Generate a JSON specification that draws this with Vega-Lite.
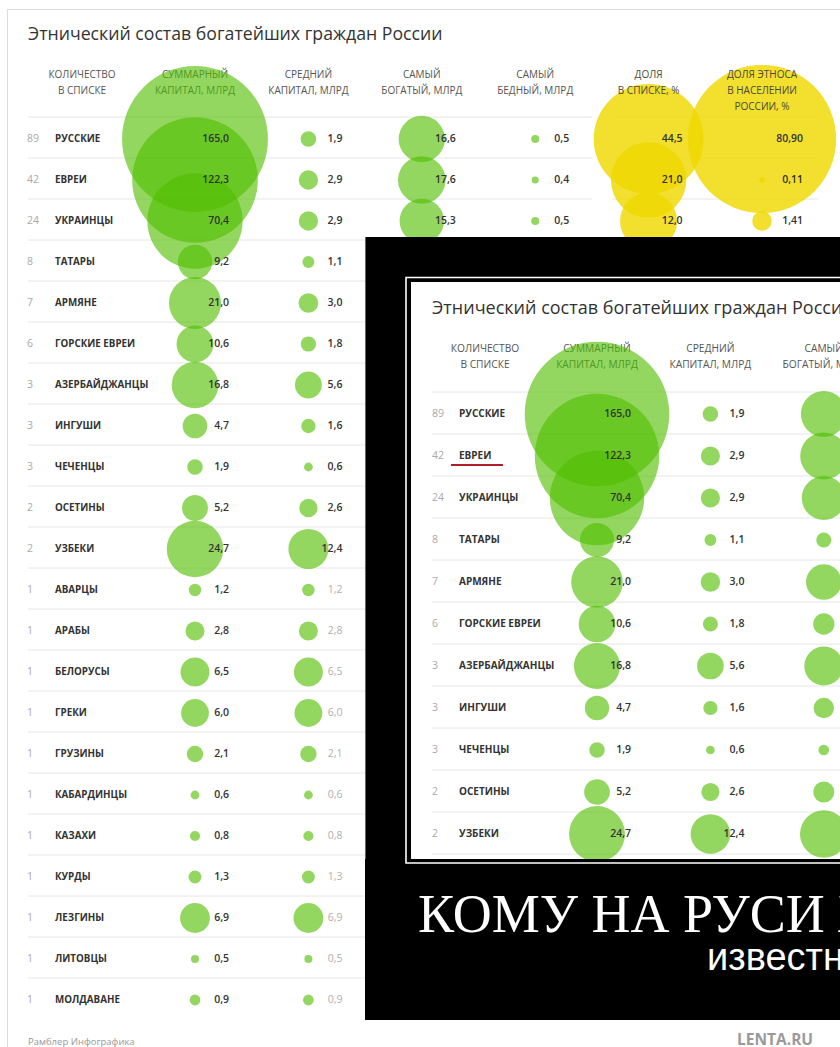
{
  "$schema": "https://vega.github.io/schema/vega-lite/v6.json",
  "width": 840,
  "height": 1047,
  "autosize": {"type": "none"},
  "padding": 0,
  "background": "white",
  "config": {
    "view": {"stroke": null},
    "axis": {"disable": true},
    "legend": {"disable": true},
    "font": "Open Sans",
    "locale": {"number": {"decimal": ",", "thousands": " ", "grouping": [3], "currency": ["", " ₽"]}}
  },
  "datasets": {
    "eth": [
      {"name": "РУССКИЕ", "count": 89, "sum": 165.0, "mean": 1.9, "rich": 16.6, "poor": 0.5, "share": 44.5, "pop": 80.90},
      {"name": "ЕВРЕИ", "count": 42, "sum": 122.3, "mean": 2.9, "rich": 17.6, "poor": 0.4, "share": 21.0, "pop": 0.11},
      {"name": "УКРАИНЦЫ", "count": 24, "sum": 70.4, "mean": 2.9, "rich": 15.3, "poor": 0.5, "share": 12.0, "pop": 1.41},
      {"name": "ТАТАРЫ", "count": 8, "sum": 9.2, "mean": 1.1, "rich": 1.8},
      {"name": "АРМЯНЕ", "count": 7, "sum": 21.0, "mean": 3.0, "rich": 10.0},
      {"name": "ГОРСКИЕ ЕВРЕИ", "count": 6, "sum": 10.6, "mean": 1.8, "rich": 3.6},
      {"name": "АЗЕРБАЙДЖАНЦЫ", "count": 3, "sum": 16.8, "mean": 5.6, "rich": 12.0},
      {"name": "ИНГУШИ", "count": 3, "sum": 4.7, "mean": 1.6, "rich": 3.3},
      {"name": "ЧЕЧЕНЦЫ", "count": 3, "sum": 1.9, "mean": 0.6, "rich": 0.9},
      {"name": "ОСЕТИНЫ", "count": 2, "sum": 5.2, "mean": 2.6, "rich": 3.5},
      {"name": "УЗБЕКИ", "count": 2, "sum": 24.7, "mean": 12.4, "rich": 17.9},
      {"name": "АВАРЦЫ", "count": 1, "sum": 1.2, "mean": 1.2},
      {"name": "АРАБЫ", "count": 1, "sum": 2.8, "mean": 2.8},
      {"name": "БЕЛОРУСЫ", "count": 1, "sum": 6.5, "mean": 6.5},
      {"name": "ГРЕКИ", "count": 1, "sum": 6.0, "mean": 6.0},
      {"name": "ГРУЗИНЫ", "count": 1, "sum": 2.1, "mean": 2.1},
      {"name": "КАБАРДИНЦЫ", "count": 1, "sum": 0.6, "mean": 0.6},
      {"name": "КАЗАХИ", "count": 1, "sum": 0.8, "mean": 0.8},
      {"name": "КУРДЫ", "count": 1, "sum": 1.3, "mean": 1.3},
      {"name": "ЛЕЗГИНЫ", "count": 1, "sum": 6.9, "mean": 6.9},
      {"name": "ЛИТОВЦЫ", "count": 1, "sum": 0.5, "mean": 0.5},
      {"name": "МОЛДАВАНЕ", "count": 1, "sum": 0.9, "mean": 0.9}
    ],
    "hdr": [
      {"key": "count", "label": ["КОЛИЧЕСТВО", "В СПИСКЕ"]},
      {"key": "sum", "label": ["СУММАРНЫЙ", "КАПИТАЛ, МЛРД"]},
      {"key": "mean", "label": ["СРЕДНИЙ", "КАПИТАЛ, МЛРД"]},
      {"key": "rich", "label": ["САМЫЙ", "БОГАТЫЙ, МЛРД"]},
      {"key": "poor", "label": ["САМЫЙ", "БЕДНЫЙ, МЛРД"]},
      {"key": "share", "label": ["ДОЛЯ", "В СПИСКЕ, %"]},
      {"key": "pop", "label": ["ДОЛЯ ЭТНОСА", "В НАСЕЛЕНИИ", "РОССИИ, %"]}
    ],
    "one": [{}]
  },
  "resolve": {"scale": {"x": "independent", "y": "independent", "size": "independent"}},
  "layer": [
    {
      "resolve": {"scale": {"size": "independent"}},
      "layer": [
        {
          "data": {"name": "one"},
          "mark": {"type": "rule", "color": "#dcdcdc", "strokeWidth": 1, "xOffset": -187.5, "x2Offset": 100, "yOffset": -129.5},
          "encoding": {
            "x": {"datum": "sum", "type": "nominal", "scale": {"type": "point", "domain": ["sum", "mean", "rich", "poor", "share", "pop"], "range": [195, 762], "padding": 0}},
            "x2": {"datum": "pop"},
            "y": {"datum": "РУССКИЕ", "type": "nominal", "scale": {"type": "point", "domain": ["РУССКИЕ","ЕВРЕИ","УКРАИНЦЫ","ТАТАРЫ","АРМЯНЕ","ГОРСКИЕ ЕВРЕИ","АЗЕРБАЙДЖАНЦЫ","ИНГУШИ","ЧЕЧЕНЦЫ","ОСЕТИНЫ","УЗБЕКИ","АВАРЦЫ","АРАБЫ","БЕЛОРУСЫ","ГРЕКИ","ГРУЗИНЫ","КАБАРДИНЦЫ","КАЗАХИ","КУРДЫ","ЛЕЗГИНЫ","ЛИТОВЦЫ","МОЛДАВАНЕ"], "range": [139, 1000], "padding": 0}}
          }
        },
        {
          "data": {"name": "one"},
          "mark": {"type": "rule", "color": "#dcdcdc", "strokeWidth": 1, "xOffset": -187.5, "yOffset": -129.5, "y2Offset": 60},
          "encoding": {
            "x": {"datum": "sum", "type": "nominal", "scale": {"type": "point", "domain": ["sum", "mean", "rich", "poor", "share", "pop"], "range": [195, 762], "padding": 0}},
            "y": {"datum": "РУССКИЕ", "type": "nominal", "scale": {"type": "point", "domain": ["РУССКИЕ","ЕВРЕИ","УКРАИНЦЫ","ТАТАРЫ","АРМЯНЕ","ГОРСКИЕ ЕВРЕИ","АЗЕРБАЙДЖАНЦЫ","ИНГУШИ","ЧЕЧЕНЦЫ","ОСЕТИНЫ","УЗБЕКИ","АВАРЦЫ","АРАБЫ","БЕЛОРУСЫ","ГРЕКИ","ГРУЗИНЫ","КАБАРДИНЦЫ","КАЗАХИ","КУРДЫ","ЛЕЗГИНЫ","ЛИТОВЦЫ","МОЛДАВАНЕ"], "range": [139, 1000], "padding": 0}},
            "y2": {"datum": "МОЛДАВАНЕ"}
          }
        },
        {
          "data": {"name": "eth"},
          "mark": {"type": "rule", "color": "#e6e6e6", "strokeWidth": 1, "xOffset": -167, "x2Offset": 57, "yOffset": -22},
          "encoding": {
            "x": {"datum": "sum", "type": "nominal", "scale": {"type": "point", "domain": ["sum", "mean", "rich", "poor", "share", "pop"], "range": [195, 762], "padding": 0}},
            "x2": {"datum": "poor"},
            "y": {"field": "name", "type": "nominal", "scale": {"type": "point", "domain": ["РУССКИЕ","ЕВРЕИ","УКРАИНЦЫ","ТАТАРЫ","АРМЯНЕ","ГОРСКИЕ ЕВРЕИ","АЗЕРБАЙДЖАНЦЫ","ИНГУШИ","ЧЕЧЕНЦЫ","ОСЕТИНЫ","УЗБЕКИ","АВАРЦЫ","АРАБЫ","БЕЛОРУСЫ","ГРЕКИ","ГРУЗИНЫ","КАБАРДИНЦЫ","КАЗАХИ","КУРДЫ","ЛЕЗГИНЫ","ЛИТОВЦЫ","МОЛДАВАНЕ"], "range": [139, 1000], "padding": 0}}
          }
        },
        {
          "data": {"name": "eth"},
          "transform": [{"filter": "datum.count >= 24"}],
          "mark": {"type": "rule", "color": "#e6e6e6", "strokeWidth": 1, "xOffset": -36, "x2Offset": 56, "yOffset": -22},
          "encoding": {
            "x": {"datum": "share", "type": "nominal", "scale": {"type": "point", "domain": ["sum", "mean", "rich", "poor", "share", "pop"], "range": [195, 762], "padding": 0}},
            "x2": {"datum": "pop"},
            "y": {"field": "name", "type": "nominal", "scale": {"type": "point", "domain": ["РУССКИЕ","ЕВРЕИ","УКРАИНЦЫ","ТАТАРЫ","АРМЯНЕ","ГОРСКИЕ ЕВРЕИ","АЗЕРБАЙДЖАНЦЫ","ИНГУШИ","ЧЕЧЕНЦЫ","ОСЕТИНЫ","УЗБЕКИ","АВАРЦЫ","АРАБЫ","БЕЛОРУСЫ","ГРЕКИ","ГРУЗИНЫ","КАБАРДИНЦЫ","КАЗАХИ","КУРДЫ","ЛЕЗГИНЫ","ЛИТОВЦЫ","МОЛДАВАНЕ"], "range": [139, 1000], "padding": 0}}
          }
        },
        {
          "data": {"name": "hdr"},
          "transform": [{"filter": "datum.key === 'count'"}],
          "mark": {"type": "text", "fontSize": 10, "color": "#555555", "align": "center", "baseline": "top", "lineHeight": 16, "dx": -113, "dy": -69},
          "encoding": {
            "text": {"field": "label"},
            "x": {"datum": "sum", "type": "nominal", "scale": {"type": "point", "domain": ["sum", "mean", "rich", "poor", "share", "pop"], "range": [195, 762], "padding": 0}},
            "y": {"datum": "РУССКИЕ", "type": "nominal", "scale": {"type": "point", "domain": ["РУССКИЕ","ЕВРЕИ","УКРАИНЦЫ","ТАТАРЫ","АРМЯНЕ","ГОРСКИЕ ЕВРЕИ","АЗЕРБАЙДЖАНЦЫ","ИНГУШИ","ЧЕЧЕНЦЫ","ОСЕТИНЫ","УЗБЕКИ","АВАРЦЫ","АРАБЫ","БЕЛОРУСЫ","ГРЕКИ","ГРУЗИНЫ","КАБАРДИНЦЫ","КАЗАХИ","КУРДЫ","ЛЕЗГИНЫ","ЛИТОВЦЫ","МОЛДАВАНЕ"], "range": [139, 1000], "padding": 0}}
          }
        },
        {
          "data": {"name": "hdr"},
          "transform": [{"filter": "datum.key !== 'count' && datum.key !== 'share' && datum.key !== 'pop'"}],
          "mark": {"type": "text", "fontSize": 10, "color": "#555555", "align": "center", "baseline": "top", "lineHeight": 16, "dy": -69},
          "encoding": {
            "text": {"field": "label"},
            "x": {"field": "key", "type": "nominal", "scale": {"type": "point", "domain": ["sum", "mean", "rich", "poor", "share", "pop"], "range": [195, 762], "padding": 0}},
            "y": {"datum": "РУССКИЕ", "type": "nominal", "scale": {"type": "point", "domain": ["РУССКИЕ","ЕВРЕИ","УКРАИНЦЫ","ТАТАРЫ","АРМЯНЕ","ГОРСКИЕ ЕВРЕИ","АЗЕРБАЙДЖАНЦЫ","ИНГУШИ","ЧЕЧЕНЦЫ","ОСЕТИНЫ","УЗБЕКИ","АВАРЦЫ","АРАБЫ","БЕЛОРУСЫ","ГРЕКИ","ГРУЗИНЫ","КАБАРДИНЦЫ","КАЗАХИ","КУРДЫ","ЛЕЗГИНЫ","ЛИТОВЦЫ","МОЛДАВАНЕ"], "range": [139, 1000], "padding": 0}}
          }
        },
        {
          "data": {"name": "eth"},
          "transform": [
            {"fold": ["sum", "mean", "rich", "poor"], "as": ["key", "val"]},
            {"filter": "isValid(datum.val)"}
          ],
          "mark": {"type": "circle", "color": "#50be00", "opacity": 0.62},
          "encoding": {
            "x": {"field": "key", "type": "nominal", "scale": {"type": "point", "domain": ["sum", "mean", "rich", "poor", "share", "pop"], "range": [195, 762], "padding": 0}},
            "y": {"field": "name", "type": "nominal", "scale": {"type": "point", "domain": ["РУССКИЕ","ЕВРЕИ","УКРАИНЦЫ","ТАТАРЫ","АРМЯНЕ","ГОРСКИЕ ЕВРЕИ","АЗЕРБАЙДЖАНЦЫ","ИНГУШИ","ЧЕЧЕНЦЫ","ОСЕТИНЫ","УЗБЕКИ","АВАРЦЫ","АРАБЫ","БЕЛОРУСЫ","ГРЕКИ","ГРУЗИНЫ","КАБАРДИНЦЫ","КАЗАХИ","КУРДЫ","ЛЕЗГИНЫ","ЛИТОВЦЫ","МОЛДАВАНЕ"], "range": [139, 1000], "padding": 0}},
            "size": {"field": "val", "type": "quantitative", "scale": {"type": "linear", "domain": [0, 165], "range": [0, 21293], "zero": true}}
          }
        },
        {
          "data": {"name": "eth"},
          "transform": [
            {"fold": ["share", "pop"], "as": ["key", "val"]},
            {"filter": "isValid(datum.val)"}
          ],
          "mark": {"type": "circle", "color": "#efd800", "opacity": 0.82},
          "encoding": {
            "x": {"field": "key", "type": "nominal", "scale": {"type": "point", "domain": ["sum", "mean", "rich", "poor", "share", "pop"], "range": [195, 762], "padding": 0}},
            "y": {"field": "name", "type": "nominal", "scale": {"type": "point", "domain": ["РУССКИЕ","ЕВРЕИ","УКРАИНЦЫ","ТАТАРЫ","АРМЯНЕ","ГОРСКИЕ ЕВРЕИ","АЗЕРБАЙДЖАНЦЫ","ИНГУШИ","ЧЕЧЕНЦЫ","ОСЕТИНЫ","УЗБЕКИ","АВАРЦЫ","АРАБЫ","БЕЛОРУСЫ","ГРЕКИ","ГРУЗИНЫ","КАБАРДИНЦЫ","КАЗАХИ","КУРДЫ","ЛЕЗГИНЫ","ЛИТОВЦЫ","МОЛДАВАНЕ"], "range": [139, 1000], "padding": 0}},
            "size": {"field": "val", "type": "quantitative", "scale": {"type": "linear", "domain": [0, 80.9], "range": [0, 21972], "zero": true}}
          }
        },
        {
          "data": {"name": "hdr"},
          "transform": [{"filter": "datum.key === 'share' || datum.key === 'pop'"}],
          "mark": {"type": "text", "fontSize": 10, "color": "#4a4a3a", "align": "center", "baseline": "top", "lineHeight": 16, "dy": -69},
          "encoding": {
            "text": {"field": "label"},
            "x": {"field": "key", "type": "nominal", "scale": {"type": "point", "domain": ["sum", "mean", "rich", "poor", "share", "pop"], "range": [195, 762], "padding": 0}},
            "y": {"datum": "РУССКИЕ", "type": "nominal", "scale": {"type": "point", "domain": ["РУССКИЕ","ЕВРЕИ","УКРАИНЦЫ","ТАТАРЫ","АРМЯНЕ","ГОРСКИЕ ЕВРЕИ","АЗЕРБАЙДЖАНЦЫ","ИНГУШИ","ЧЕЧЕНЦЫ","ОСЕТИНЫ","УЗБЕКИ","АВАРЦЫ","АРАБЫ","БЕЛОРУСЫ","ГРЕКИ","ГРУЗИНЫ","КАБАРДИНЦЫ","КАЗАХИ","КУРДЫ","ЛЕЗГИНЫ","ЛИТОВЦЫ","МОЛДАВАНЕ"], "range": [139, 1000], "padding": 0}}
          }
        },
        {
          "data": {"name": "eth"},
          "transform": [
            {"fold": ["sum", "mean", "rich", "poor", "share"], "as": ["key", "val"]},
            {"filter": "isValid(datum.val) && (datum.key === 'sum' || (datum.key === 'mean' && datum.count > 1) || datum.count >= 24)"}
          ],
          "mark": {"type": "text", "fontSize": 10.5, "fontWeight": 600, "color": "#333333", "align": "right", "baseline": "middle", "dx": 34},
          "encoding": {
            "text": {"field": "val", "type": "quantitative", "format": ".1f"},
            "x": {"field": "key", "type": "nominal", "scale": {"type": "point", "domain": ["sum", "mean", "rich", "poor", "share", "pop"], "range": [195, 762], "padding": 0}},
            "y": {"field": "name", "type": "nominal", "scale": {"type": "point", "domain": ["РУССКИЕ","ЕВРЕИ","УКРАИНЦЫ","ТАТАРЫ","АРМЯНЕ","ГОРСКИЕ ЕВРЕИ","АЗЕРБАЙДЖАНЦЫ","ИНГУШИ","ЧЕЧЕНЦЫ","ОСЕТИНЫ","УЗБЕКИ","АВАРЦЫ","АРАБЫ","БЕЛОРУСЫ","ГРЕКИ","ГРУЗИНЫ","КАБАРДИНЦЫ","КАЗАХИ","КУРДЫ","ЛЕЗГИНЫ","ЛИТОВЦЫ","МОЛДАВАНЕ"], "range": [139, 1000], "padding": 0}}
          }
        },
        {
          "data": {"name": "eth"},
          "transform": [
            {"fold": ["mean"], "as": ["key", "val"]},
            {"filter": "isValid(datum.val) && datum.count === 1"}
          ],
          "mark": {"type": "text", "fontSize": 10.5, "color": "#b0b0b0", "align": "right", "baseline": "middle", "dx": 34},
          "encoding": {
            "text": {"field": "val", "type": "quantitative", "format": ".1f"},
            "x": {"field": "key", "type": "nominal", "scale": {"type": "point", "domain": ["sum", "mean", "rich", "poor", "share", "pop"], "range": [195, 762], "padding": 0}},
            "y": {"field": "name", "type": "nominal", "scale": {"type": "point", "domain": ["РУССКИЕ","ЕВРЕИ","УКРАИНЦЫ","ТАТАРЫ","АРМЯНЕ","ГОРСКИЕ ЕВРЕИ","АЗЕРБАЙДЖАНЦЫ","ИНГУШИ","ЧЕЧЕНЦЫ","ОСЕТИНЫ","УЗБЕКИ","АВАРЦЫ","АРАБЫ","БЕЛОРУСЫ","ГРЕКИ","ГРУЗИНЫ","КАБАРДИНЦЫ","КАЗАХИ","КУРДЫ","ЛЕЗГИНЫ","ЛИТОВЦЫ","МОЛДАВАНЕ"], "range": [139, 1000], "padding": 0}}
          }
        },
        {
          "data": {"name": "eth"},
          "transform": [
            {"fold": ["pop"], "as": ["key", "val"]},
            {"filter": "isValid(datum.val)"}
          ],
          "mark": {"type": "text", "fontSize": 10.5, "fontWeight": 600, "color": "#333333", "align": "right", "baseline": "middle", "dx": 41},
          "encoding": {
            "text": {"field": "val", "type": "quantitative", "format": ".2f"},
            "x": {"field": "key", "type": "nominal", "scale": {"type": "point", "domain": ["sum", "mean", "rich", "poor", "share", "pop"], "range": [195, 762], "padding": 0}},
            "y": {"field": "name", "type": "nominal", "scale": {"type": "point", "domain": ["РУССКИЕ","ЕВРЕИ","УКРАИНЦЫ","ТАТАРЫ","АРМЯНЕ","ГОРСКИЕ ЕВРЕИ","АЗЕРБАЙДЖАНЦЫ","ИНГУШИ","ЧЕЧЕНЦЫ","ОСЕТИНЫ","УЗБЕКИ","АВАРЦЫ","АРАБЫ","БЕЛОРУСЫ","ГРЕКИ","ГРУЗИНЫ","КАБАРДИНЦЫ","КАЗАХИ","КУРДЫ","ЛЕЗГИНЫ","ЛИТОВЦЫ","МОЛДАВАНЕ"], "range": [139, 1000], "padding": 0}}
          }
        },
        {
          "data": {"name": "eth"},
          "mark": {"type": "text", "fontSize": 10.5, "color": "#aaaaaa", "align": "left", "baseline": "middle", "dx": -168},
          "encoding": {
            "text": {"field": "count", "type": "quantitative", "format": "d"},
            "x": {"datum": "sum", "type": "nominal", "scale": {"type": "point", "domain": ["sum", "mean", "rich", "poor", "share", "pop"], "range": [195, 762], "padding": 0}},
            "y": {"field": "name", "type": "nominal", "scale": {"type": "point", "domain": ["РУССКИЕ","ЕВРЕИ","УКРАИНЦЫ","ТАТАРЫ","АРМЯНЕ","ГОРСКИЕ ЕВРЕИ","АЗЕРБАЙДЖАНЦЫ","ИНГУШИ","ЧЕЧЕНЦЫ","ОСЕТИНЫ","УЗБЕКИ","АВАРЦЫ","АРАБЫ","БЕЛОРУСЫ","ГРЕКИ","ГРУЗИНЫ","КАБАРДИНЦЫ","КАЗАХИ","КУРДЫ","ЛЕЗГИНЫ","ЛИТОВЦЫ","МОЛДАВАНЕ"], "range": [139, 1000], "padding": 0}}
          }
        },
        {
          "data": {"name": "eth"},
          "mark": {"type": "text", "fontSize": 9.8, "fontWeight": 700, "color": "#333333", "align": "left", "baseline": "middle", "dx": -140},
          "encoding": {
            "text": {"field": "name"},
            "x": {"datum": "sum", "type": "nominal", "scale": {"type": "point", "domain": ["sum", "mean", "rich", "poor", "share", "pop"], "range": [195, 762], "padding": 0}},
            "y": {"field": "name", "type": "nominal", "scale": {"type": "point", "domain": ["РУССКИЕ","ЕВРЕИ","УКРАИНЦЫ","ТАТАРЫ","АРМЯНЕ","ГОРСКИЕ ЕВРЕИ","АЗЕРБАЙДЖАНЦЫ","ИНГУШИ","ЧЕЧЕНЦЫ","ОСЕТИНЫ","УЗБЕКИ","АВАРЦЫ","АРАБЫ","БЕЛОРУСЫ","ГРЕКИ","ГРУЗИНЫ","КАБАРДИНЦЫ","КАЗАХИ","КУРДЫ","ЛЕЗГИНЫ","ЛИТОВЦЫ","МОЛДАВАНЕ"], "range": [139, 1000], "padding": 0}}
          }
        },
        {
          "data": {"name": "one"},
          "mark": {"type": "text", "fontSize": 17.7, "color": "#333333", "align": "left", "baseline": "alphabetic", "dx": -167, "dy": -99, "text": "Этнический состав богатейших граждан России"},
          "encoding": {
            "x": {"datum": "sum", "type": "nominal", "scale": {"type": "point", "domain": ["sum", "mean", "rich", "poor", "share", "pop"], "range": [195, 762], "padding": 0}},
            "y": {"datum": "РУССКИЕ", "type": "nominal", "scale": {"type": "point", "domain": ["РУССКИЕ","ЕВРЕИ","УКРАИНЦЫ","ТАТАРЫ","АРМЯНЕ","ГОРСКИЕ ЕВРЕИ","АЗЕРБАЙДЖАНЦЫ","ИНГУШИ","ЧЕЧЕНЦЫ","ОСЕТИНЫ","УЗБЕКИ","АВАРЦЫ","АРАБЫ","БЕЛОРУСЫ","ГРЕКИ","ГРУЗИНЫ","КАБАРДИНЦЫ","КАЗАХИ","КУРДЫ","ЛЕЗГИНЫ","ЛИТОВЦЫ","МОЛДАВАНЕ"], "range": [139, 1000], "padding": 0}}
          }
        },
        {
          "data": {"name": "one"},
          "mark": {"type": "text", "fontSize": 9.5, "color": "#999999", "align": "left", "baseline": "alphabetic", "dx": -167, "dy": 44.5, "text": "Рамблер Инфографика"},
          "encoding": {
            "x": {"datum": "sum", "type": "nominal", "scale": {"type": "point", "domain": ["sum", "mean", "rich", "poor", "share", "pop"], "range": [195, 762], "padding": 0}},
            "y": {"datum": "МОЛДАВАНЕ", "type": "nominal", "scale": {"type": "point", "domain": ["РУССКИЕ","ЕВРЕИ","УКРАИНЦЫ","ТАТАРЫ","АРМЯНЕ","ГОРСКИЕ ЕВРЕИ","АЗЕРБАЙДЖАНЦЫ","ИНГУШИ","ЧЕЧЕНЦЫ","ОСЕТИНЫ","УЗБЕКИ","АВАРЦЫ","АРАБЫ","БЕЛОРУСЫ","ГРЕКИ","ГРУЗИНЫ","КАБАРДИНЦЫ","КАЗАХИ","КУРДЫ","ЛЕЗГИНЫ","ЛИТОВЦЫ","МОЛДАВАНЕ"], "range": [139, 1000], "padding": 0}}
          }
        },
        {
          "data": {"name": "one"},
          "mark": {"type": "rect", "color": "#000000", "xOffset": 57, "x2Offset": 100, "yOffset": 16, "y2Offset": 20},
          "encoding": {
            "x": {"datum": "mean", "type": "nominal", "scale": {"type": "point", "domain": ["sum", "mean", "rich", "poor", "share", "pop"], "range": [195, 762], "padding": 0}},
            "x2": {"datum": "pop"},
            "y": {"datum": "УКРАИНЦЫ", "type": "nominal", "scale": {"type": "point", "domain": ["РУССКИЕ","ЕВРЕИ","УКРАИНЦЫ","ТАТАРЫ","АРМЯНЕ","ГОРСКИЕ ЕВРЕИ","АЗЕРБАЙДЖАНЦЫ","ИНГУШИ","ЧЕЧЕНЦЫ","ОСЕТИНЫ","УЗБЕКИ","АВАРЦЫ","АРАБЫ","БЕЛОРУСЫ","ГРЕКИ","ГРУЗИНЫ","КАБАРДИНЦЫ","КАЗАХИ","КУРДЫ","ЛЕЗГИНЫ","ЛИТОВЦЫ","МОЛДАВАНЕ"], "range": [139, 1000], "padding": 0}},
            "y2": {"datum": "МОЛДАВАНЕ"}
          }
        }
      ]
    },
    {
      "layer": [
        {
          "data": {"name": "one"},
          "mark": {"type": "rect", "color": "#ffffff", "xOffset": -186, "x2Offset": 10, "yOffset": -132, "y2Offset": -17},
          "encoding": {
            "x": {"datum": "sum", "type": "nominal", "scale": {"type": "point", "domain": ["sum", "mean", "rich", "poor", "share", "pop"], "range": [597, 1164], "padding": 0}},
            "x2": {"datum": "pop"},
            "y": {"datum": "РУССКИЕ", "type": "nominal", "scale": {"type": "point", "domain": ["РУССКИЕ","ЕВРЕИ","УКРАИНЦЫ","ТАТАРЫ","АРМЯНЕ","ГОРСКИЕ ЕВРЕИ","АЗЕРБАЙДЖАНЦЫ","ИНГУШИ","ЧЕЧЕНЦЫ","ОСЕТИНЫ","УЗБЕКИ","АВАРЦЫ","АРАБЫ","БЕЛОРУСЫ","ГРЕКИ","ГРУЗИНЫ","КАБАРДИНЦЫ","КАЗАХИ","КУРДЫ","ЛЕЗГИНЫ","ЛИТОВЦЫ","МОЛДАВАНЕ"], "range": [414, 1296], "padding": 0}},
            "y2": {"datum": "АВАРЦЫ"}
          }
        },
        {
          "data": {"name": "eth"},
          "transform": [{"filter": "datum.count >= 2 || datum.name === 'АВАРЦЫ'"}],
          "mark": {"type": "rule", "color": "#e6e6e6", "strokeWidth": 1, "xOffset": -165, "yOffset": -22},
          "encoding": {
            "x": {"datum": "sum", "type": "nominal", "scale": {"type": "point", "domain": ["sum", "mean", "rich", "poor", "share", "pop"], "range": [597, 1164], "padding": 0}},
            "x2": {"datum": "pop"},
            "y": {"field": "name", "type": "nominal", "scale": {"type": "point", "domain": ["РУССКИЕ","ЕВРЕИ","УКРАИНЦЫ","ТАТАРЫ","АРМЯНЕ","ГОРСКИЕ ЕВРЕИ","АЗЕРБАЙДЖАНЦЫ","ИНГУШИ","ЧЕЧЕНЦЫ","ОСЕТИНЫ","УЗБЕКИ","АВАРЦЫ","АРАБЫ","БЕЛОРУСЫ","ГРЕКИ","ГРУЗИНЫ","КАБАРДИНЦЫ","КАЗАХИ","КУРДЫ","ЛЕЗГИНЫ","ЛИТОВЦЫ","МОЛДАВАНЕ"], "range": [414, 1296], "padding": 0}}
          }
        },
        {
          "data": {"name": "hdr"},
          "transform": [{"filter": "datum.key === 'count'"}],
          "mark": {"type": "text", "fontSize": 10.2, "color": "#555555", "align": "center", "baseline": "top", "lineHeight": 16, "dx": -112, "dy": -70},
          "encoding": {
            "text": {"field": "label"},
            "x": {"datum": "sum", "type": "nominal", "scale": {"type": "point", "domain": ["sum", "mean", "rich", "poor", "share", "pop"], "range": [597, 1164], "padding": 0}},
            "y": {"datum": "РУССКИЕ", "type": "nominal", "scale": {"type": "point", "domain": ["РУССКИЕ","ЕВРЕИ","УКРАИНЦЫ","ТАТАРЫ","АРМЯНЕ","ГОРСКИЕ ЕВРЕИ","АЗЕРБАЙДЖАНЦЫ","ИНГУШИ","ЧЕЧЕНЦЫ","ОСЕТИНЫ","УЗБЕКИ","АВАРЦЫ","АРАБЫ","БЕЛОРУСЫ","ГРЕКИ","ГРУЗИНЫ","КАБАРДИНЦЫ","КАЗАХИ","КУРДЫ","ЛЕЗГИНЫ","ЛИТОВЦЫ","МОЛДАВАНЕ"], "range": [414, 1296], "padding": 0}}
          }
        },
        {
          "data": {"name": "hdr"},
          "transform": [{"filter": "datum.key === 'sum' || datum.key === 'mean' || datum.key === 'rich'"}],
          "mark": {"type": "text", "fontSize": 10.2, "color": "#555555", "align": "center", "baseline": "top", "lineHeight": 16, "dy": -70},
          "encoding": {
            "text": {"field": "label"},
            "x": {"field": "key", "type": "nominal", "scale": {"type": "point", "domain": ["sum", "mean", "rich", "poor", "share", "pop"], "range": [597, 1164], "padding": 0}},
            "y": {"datum": "РУССКИЕ", "type": "nominal", "scale": {"type": "point", "domain": ["РУССКИЕ","ЕВРЕИ","УКРАИНЦЫ","ТАТАРЫ","АРМЯНЕ","ГОРСКИЕ ЕВРЕИ","АЗЕРБАЙДЖАНЦЫ","ИНГУШИ","ЧЕЧЕНЦЫ","ОСЕТИНЫ","УЗБЕКИ","АВАРЦЫ","АРАБЫ","БЕЛОРУСЫ","ГРЕКИ","ГРУЗИНЫ","КАБАРДИНЦЫ","КАЗАХИ","КУРДЫ","ЛЕЗГИНЫ","ЛИТОВЦЫ","МОЛДАВАНЕ"], "range": [414, 1296], "padding": 0}}
          }
        },
        {
          "data": {"name": "eth"},
          "transform": [
            {"filter": "datum.count >= 2"},
            {"fold": ["sum", "mean", "rich"], "as": ["key", "val"]},
            {"filter": "isValid(datum.val)"}
          ],
          "mark": {"type": "circle", "color": "#50be00", "opacity": 0.62},
          "encoding": {
            "x": {"field": "key", "type": "nominal", "scale": {"type": "point", "domain": ["sum", "mean", "rich", "poor", "share", "pop"], "range": [597, 1164], "padding": 0}},
            "y": {"field": "name", "type": "nominal", "scale": {"type": "point", "domain": ["РУССКИЕ","ЕВРЕИ","УКРАИНЦЫ","ТАТАРЫ","АРМЯНЕ","ГОРСКИЕ ЕВРЕИ","АЗЕРБАЙДЖАНЦЫ","ИНГУШИ","ЧЕЧЕНЦЫ","ОСЕТИНЫ","УЗБЕКИ","АВАРЦЫ","АРАБЫ","БЕЛОРУСЫ","ГРЕКИ","ГРУЗИНЫ","КАБАРДИНЦЫ","КАЗАХИ","КУРДЫ","ЛЕЗГИНЫ","ЛИТОВЦЫ","МОЛДАВАНЕ"], "range": [414, 1296], "padding": 0}},
            "size": {"field": "val", "type": "quantitative", "scale": {"type": "linear", "domain": [0, 165], "range": [0, 20900], "zero": true}}
          }
        },
        {
          "data": {"name": "eth"},
          "transform": [
            {"filter": "datum.count >= 2"},
            {"fold": ["sum", "mean"], "as": ["key", "val"]}
          ],
          "mark": {"type": "text", "fontSize": 10.5, "fontWeight": 600, "color": "#333333", "align": "right", "baseline": "middle", "dx": 34},
          "encoding": {
            "text": {"field": "val", "type": "quantitative", "format": ".1f"},
            "x": {"field": "key", "type": "nominal", "scale": {"type": "point", "domain": ["sum", "mean", "rich", "poor", "share", "pop"], "range": [597, 1164], "padding": 0}},
            "y": {"field": "name", "type": "nominal", "scale": {"type": "point", "domain": ["РУССКИЕ","ЕВРЕИ","УКРАИНЦЫ","ТАТАРЫ","АРМЯНЕ","ГОРСКИЕ ЕВРЕИ","АЗЕРБАЙДЖАНЦЫ","ИНГУШИ","ЧЕЧЕНЦЫ","ОСЕТИНЫ","УЗБЕКИ","АВАРЦЫ","АРАБЫ","БЕЛОРУСЫ","ГРЕКИ","ГРУЗИНЫ","КАБАРДИНЦЫ","КАЗАХИ","КУРДЫ","ЛЕЗГИНЫ","ЛИТОВЦЫ","МОЛДАВАНЕ"], "range": [414, 1296], "padding": 0}}
          }
        },
        {
          "data": {"name": "eth"},
          "transform": [{"filter": "datum.count >= 2"}],
          "mark": {"type": "text", "fontSize": 10.5, "color": "#aaaaaa", "align": "left", "baseline": "middle", "dx": -165},
          "encoding": {
            "text": {"field": "count", "type": "quantitative", "format": "d"},
            "x": {"datum": "sum", "type": "nominal", "scale": {"type": "point", "domain": ["sum", "mean", "rich", "poor", "share", "pop"], "range": [597, 1164], "padding": 0}},
            "y": {"field": "name", "type": "nominal", "scale": {"type": "point", "domain": ["РУССКИЕ","ЕВРЕИ","УКРАИНЦЫ","ТАТАРЫ","АРМЯНЕ","ГОРСКИЕ ЕВРЕИ","АЗЕРБАЙДЖАНЦЫ","ИНГУШИ","ЧЕЧЕНЦЫ","ОСЕТИНЫ","УЗБЕКИ","АВАРЦЫ","АРАБЫ","БЕЛОРУСЫ","ГРЕКИ","ГРУЗИНЫ","КАБАРДИНЦЫ","КАЗАХИ","КУРДЫ","ЛЕЗГИНЫ","ЛИТОВЦЫ","МОЛДАВАНЕ"], "range": [414, 1296], "padding": 0}}
          }
        },
        {
          "data": {"name": "eth"},
          "transform": [{"filter": "datum.count >= 2"}],
          "mark": {"type": "text", "fontSize": 10, "fontWeight": 700, "color": "#333333", "align": "left", "baseline": "middle", "dx": -138},
          "encoding": {
            "text": {"field": "name"},
            "x": {"datum": "sum", "type": "nominal", "scale": {"type": "point", "domain": ["sum", "mean", "rich", "poor", "share", "pop"], "range": [597, 1164], "padding": 0}},
            "y": {"field": "name", "type": "nominal", "scale": {"type": "point", "domain": ["РУССКИЕ","ЕВРЕИ","УКРАИНЦЫ","ТАТАРЫ","АРМЯНЕ","ГОРСКИЕ ЕВРЕИ","АЗЕРБАЙДЖАНЦЫ","ИНГУШИ","ЧЕЧЕНЦЫ","ОСЕТИНЫ","УЗБЕКИ","АВАРЦЫ","АРАБЫ","БЕЛОРУСЫ","ГРЕКИ","ГРУЗИНЫ","КАБАРДИНЦЫ","КАЗАХИ","КУРДЫ","ЛЕЗГИНЫ","ЛИТОВЦЫ","МОЛДАВАНЕ"], "range": [414, 1296], "padding": 0}}
          }
        },
        {
          "data": {"name": "one"},
          "mark": {"type": "text", "fontSize": 18, "color": "#333333", "align": "left", "baseline": "alphabetic", "dx": -165, "dy": -100.5, "text": "Этнический состав богатейших граждан России"},
          "encoding": {
            "x": {"datum": "sum", "type": "nominal", "scale": {"type": "point", "domain": ["sum", "mean", "rich", "poor", "share", "pop"], "range": [597, 1164], "padding": 0}},
            "y": {"datum": "РУССКИЕ", "type": "nominal", "scale": {"type": "point", "domain": ["РУССКИЕ","ЕВРЕИ","УКРАИНЦЫ","ТАТАРЫ","АРМЯНЕ","ГОРСКИЕ ЕВРЕИ","АЗЕРБАЙДЖАНЦЫ","ИНГУШИ","ЧЕЧЕНЦЫ","ОСЕТИНЫ","УЗБЕКИ","АВАРЦЫ","АРАБЫ","БЕЛОРУСЫ","ГРЕКИ","ГРУЗИНЫ","КАБАРДИНЦЫ","КАЗАХИ","КУРДЫ","ЛЕЗГИНЫ","ЛИТОВЦЫ","МОЛДАВАНЕ"], "range": [414, 1296], "padding": 0}}
          }
        },
        {
          "data": {"name": "one"},
          "mark": {"type": "rule", "color": "#b01e2a", "strokeWidth": 2, "xOffset": -146, "x2Offset": -94, "yOffset": 9},
          "encoding": {
            "x": {"datum": "sum", "type": "nominal", "scale": {"type": "point", "domain": ["sum", "mean", "rich", "poor", "share", "pop"], "range": [597, 1164], "padding": 0}},
            "x2": {"datum": "sum"},
            "y": {"datum": "ЕВРЕИ", "type": "nominal", "scale": {"type": "point", "domain": ["РУССКИЕ","ЕВРЕИ","УКРАИНЦЫ","ТАТАРЫ","АРМЯНЕ","ГОРСКИЕ ЕВРЕИ","АЗЕРБАЙДЖАНЦЫ","ИНГУШИ","ЧЕЧЕНЦЫ","ОСЕТИНЫ","УЗБЕКИ","АВАРЦЫ","АРАБЫ","БЕЛОРУСЫ","ГРЕКИ","ГРУЗИНЫ","КАБАРДИНЦЫ","КАЗАХИ","КУРДЫ","ЛЕЗГИНЫ","ЛИТОВЦЫ","МОЛДАВАНЕ"], "range": [414, 1296], "padding": 0}}
          }
        },
        {
          "data": {"name": "one"},
          "mark": {"type": "rect", "color": "#000000", "xOffset": -232, "x2Offset": 10, "yOffset": -17, "y2Offset": 144},
          "encoding": {
            "x": {"datum": "sum", "type": "nominal", "scale": {"type": "point", "domain": ["sum", "mean", "rich", "poor", "share", "pop"], "range": [597, 1164], "padding": 0}},
            "x2": {"datum": "pop"},
            "y": {"datum": "АВАРЦЫ", "type": "nominal", "scale": {"type": "point", "domain": ["РУССКИЕ","ЕВРЕИ","УКРАИНЦЫ","ТАТАРЫ","АРМЯНЕ","ГОРСКИЕ ЕВРЕИ","АЗЕРБАЙДЖАНЦЫ","ИНГУШИ","ЧЕЧЕНЦЫ","ОСЕТИНЫ","УЗБЕКИ","АВАРЦЫ","АРАБЫ","БЕЛОРУСЫ","ГРЕКИ","ГРУЗИНЫ","КАБАРДИНЦЫ","КАЗАХИ","КУРДЫ","ЛЕЗГИНЫ","ЛИТОВЦЫ","МОЛДАВАНЕ"], "range": [414, 1296], "padding": 0}},
            "y2": {"datum": "АВАРЦЫ"}
          }
        },
        {
          "data": {"name": "one"},
          "mark": {"type": "rect", "fill": null, "filled": false, "stroke": "#ffffff", "strokeWidth": 1.6, "xOffset": -191, "x2Offset": 10, "yOffset": -136.5, "y2Offset": -13},
          "encoding": {
            "x": {"datum": "sum", "type": "nominal", "scale": {"type": "point", "domain": ["sum", "mean", "rich", "poor", "share", "pop"], "range": [597, 1164], "padding": 0}},
            "x2": {"datum": "pop"},
            "y": {"datum": "РУССКИЕ", "type": "nominal", "scale": {"type": "point", "domain": ["РУССКИЕ","ЕВРЕИ","УКРАИНЦЫ","ТАТАРЫ","АРМЯНЕ","ГОРСКИЕ ЕВРЕИ","АЗЕРБАЙДЖАНЦЫ","ИНГУШИ","ЧЕЧЕНЦЫ","ОСЕТИНЫ","УЗБЕКИ","АВАРЦЫ","АРАБЫ","БЕЛОРУСЫ","ГРЕКИ","ГРУЗИНЫ","КАБАРДИНЦЫ","КАЗАХИ","КУРДЫ","ЛЕЗГИНЫ","ЛИТОВЦЫ","МОЛДАВАНЕ"], "range": [414, 1296], "padding": 0}},
            "y2": {"datum": "АВАРЦЫ"}
          }
        },
        {
          "data": {"name": "one"},
          "mark": {"type": "text", "font": "Liberation Serif", "fontSize": 54, "color": "#ffffff", "align": "left", "baseline": "alphabetic", "dx": -179, "dy": 56, "text": "КОМУ НА РУСИ ЖИТЬ ХОРОШО"},
          "encoding": {
            "x": {"datum": "sum", "type": "nominal", "scale": {"type": "point", "domain": ["sum", "mean", "rich", "poor", "share", "pop"], "range": [597, 1164], "padding": 0}},
            "y": {"datum": "АВАРЦЫ", "type": "nominal", "scale": {"type": "point", "domain": ["РУССКИЕ","ЕВРЕИ","УКРАИНЦЫ","ТАТАРЫ","АРМЯНЕ","ГОРСКИЕ ЕВРЕИ","АЗЕРБАЙДЖАНЦЫ","ИНГУШИ","ЧЕЧЕНЦЫ","ОСЕТИНЫ","УЗБЕКИ","АВАРЦЫ","АРАБЫ","БЕЛОРУСЫ","ГРЕКИ","ГРУЗИНЫ","КАБАРДИНЦЫ","КАЗАХИ","КУРДЫ","ЛЕЗГИНЫ","ЛИТОВЦЫ","МОЛДАВАНЕ"], "range": [414, 1296], "padding": 0}}
          }
        },
        {
          "data": {"name": "one"},
          "mark": {"type": "text", "font": "Liberation Sans", "fontSize": 38, "color": "#ffffff", "align": "left", "baseline": "alphabetic", "dx": 110, "dy": 94, "text": "известно кому"},
          "encoding": {
            "x": {"datum": "sum", "type": "nominal", "scale": {"type": "point", "domain": ["sum", "mean", "rich", "poor", "share", "pop"], "range": [597, 1164], "padding": 0}},
            "y": {"datum": "АВАРЦЫ", "type": "nominal", "scale": {"type": "point", "domain": ["РУССКИЕ","ЕВРЕИ","УКРАИНЦЫ","ТАТАРЫ","АРМЯНЕ","ГОРСКИЕ ЕВРЕИ","АЗЕРБАЙДЖАНЦЫ","ИНГУШИ","ЧЕЧЕНЦЫ","ОСЕТИНЫ","УЗБЕКИ","АВАРЦЫ","АРАБЫ","БЕЛОРУСЫ","ГРЕКИ","ГРУЗИНЫ","КАБАРДИНЦЫ","КАЗАХИ","КУРДЫ","ЛЕЗГИНЫ","ЛИТОВЦЫ","МОЛДАВАНЕ"], "range": [414, 1296], "padding": 0}}
          }
        },
        {
          "data": {"name": "one"},
          "mark": {"type": "text", "fontSize": 15.5, "fontWeight": 700, "color": "#9a9a9a", "align": "left", "baseline": "alphabetic", "dx": 140, "dy": 169, "text": "LENTA.RU"},
          "encoding": {
            "x": {"datum": "sum", "type": "nominal", "scale": {"type": "point", "domain": ["sum", "mean", "rich", "poor", "share", "pop"], "range": [597, 1164], "padding": 0}},
            "y": {"datum": "АВАРЦЫ", "type": "nominal", "scale": {"type": "point", "domain": ["РУССКИЕ","ЕВРЕИ","УКРАИНЦЫ","ТАТАРЫ","АРМЯНЕ","ГОРСКИЕ ЕВРЕИ","АЗЕРБАЙДЖАНЦЫ","ИНГУШИ","ЧЕЧЕНЦЫ","ОСЕТИНЫ","УЗБЕКИ","АВАРЦЫ","АРАБЫ","БЕЛОРУСЫ","ГРЕКИ","ГРУЗИНЫ","КАБАРДИНЦЫ","КАЗАХИ","КУРДЫ","ЛЕЗГИНЫ","ЛИТОВЦЫ","МОЛДАВАНЕ"], "range": [414, 1296], "padding": 0}}
          }
        }
      ]
    }
  ]
}
